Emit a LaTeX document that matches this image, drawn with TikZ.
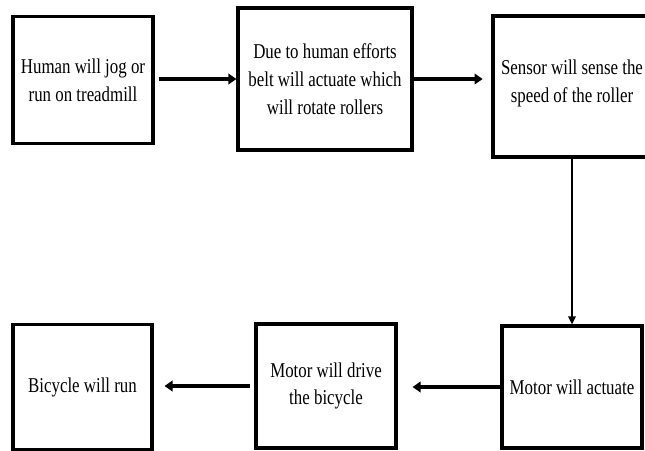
\documentclass[tikz,border=0pt]{standalone}
\usepackage{fontspec}
\setmainfont{Liberation Serif}[FakeStretch=0.8]
\usepackage{tikz}
\usetikzlibrary{arrows.meta}

\begin{document}
\begin{tikzpicture}[x=0.02cm, y=-0.02cm,
    block/.style={draw, line width=1.8pt, align=center, inner sep=0pt,
        font=\fontsize{12}{15.8}\selectfont},
    flow/.style={line width=2.4pt, -{Triangle[length=4.6pt, width=6pt]}},
    drop/.style={line width=1.5pt, -{Triangle[length=4.6pt, width=4.2pt]}}]
    \clip (0,0) rectangle (645,450);

    % top row
    \node[block, minimum width=2.8cm, minimum height=2.54cm] (jog) at (83,80)
        {Human will jog or\\run on treadmill};
    \node[block, minimum width=3.48cm, minimum height=2.84cm] (belt) at (325,79)
        {Due to human efforts\\belt will actuate which\\will rotate rollers};
    \node[block, minimum width=3.16cm, minimum height=2.82cm] (sensor) at (572,86.5)
        {Sensor will sense the\\speed of the roller\\[-10pt]\mbox{}};

    % bottom row
    \node[block, minimum width=2.78cm, minimum height=2.5cm] (bike) at (82.5,387)
        {Bicycle will run};
    \node[block, minimum width=2.8cm, minimum height=2.48cm] (drive) at (326,386)
        {Motor will drive\\the bicycle};
    \node[block, minimum width=2.8cm, minimum height=2.44cm] (motor) at (572,387)
        {Motor will actuate};

    % arrows
    \draw[flow, shorten <=2.5pt] (jog.east |- belt.west) -- (belt.west);
    \draw[flow, shorten >=5pt] (belt.east) -- (belt.east -| sensor.west);
    \draw[drop] (sensor.south) -- (motor.north);
    \draw[flow, shorten >=8.5pt] (motor.west) -- (motor.west -| drive.east);
    \draw[flow, shorten <=2.8pt, shorten >=6.2pt] (drive.west) -- (drive.west -| bike.east);
\end{tikzpicture}
\end{document}
